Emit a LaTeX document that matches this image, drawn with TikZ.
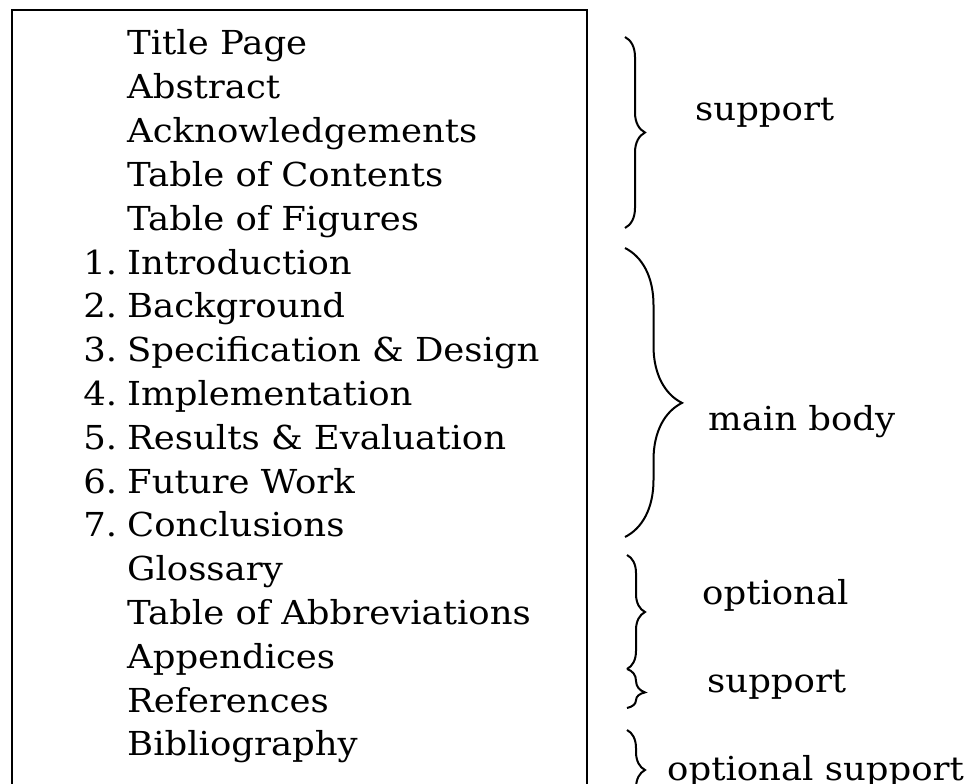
\documentclass[tikz,border=0pt]{standalone}
\usepackage{fontspec}
\setmainfont[FakeStretch=1.075]{DejaVu Serif}
\usetikzlibrary{decorations.pathreplacing}
\tikzset{
  entry/.style={anchor=base west, inner sep=0pt, font=\fontsize{33}{40}\selectfont},
  lbl/.style={anchor=base west, inner sep=0pt, font=\fontsize{33}{40}\selectfont},
  brc/.style={decorate, line width=2pt, decoration={brace, amplitude=#1}},
}
\newcommand{\numpre}[1]{\llap{#1\hspace{10pt}}}
\begin{document}
\begin{tikzpicture}[x=1pt,y=1pt]
\useasboundingbox (0,0) rectangle (975,-784);
\draw[line width=1.8pt] (12,-800) -- (12,-10) -- (587,-10) -- (587,-800);
\node[entry] (e1)  at (127,-55) {Title Page};
\node[entry] (e2)  at (127,-98.8) {Abstract};
\node[entry] (e3)  at (127,-142.6) {Acknowledgements};
\node[entry] (e4)  at (127,-186.4) {Table of Contents};
\node[entry] (e5)  at (127,-230.2) {Table of Figures};
\node[entry] (e6)  at (127,-274) {\numpre{1.}Introduction};
\node[entry] (e7)  at (127,-317.8) {\numpre{2.}Background};
\node[entry] (e8)  at (127,-361.6) {\numpre{3.}Specification \& Design};
\node[entry] (e9)  at (127,-405.4) {\numpre{4.}Implementation};
\node[entry] (e10) at (127,-449.2) {\numpre{5.}Results \& Evaluation};
\node[entry] (e11) at (127,-493) {\numpre{6.}Future Work};
\node[entry] (e12) at (127,-536.8) {\numpre{7.}Conclusions};
\node[entry] (e13) at (127,-580.6) {Glossary};
\node[entry] (e14) at (127,-624.4) {Table of Abbreviations};
\node[entry] (e15) at (127,-668.2) {Appendices};
\node[entry] (e16) at (127,-712) {References};
\node[entry] (e17) at (127,-755.8) {Bibliography};
\coordinate (b1t) at (625,-37);  \coordinate (b1b) at (625,-228);
\coordinate (b2t) at (625,-248); \coordinate (b2b) at (625,-537);
\coordinate (b3t) at (627,-555); \coordinate (b3b) at (627,-669);
\coordinate (b4t) at (627,-669); \coordinate (b4b) at (627,-708);
\coordinate (b5t) at (627,-730); \coordinate (b5b) at (627,-810);
\draw[brc=20pt] (b1t) -- (b1b);
\draw[brc=57pt, decoration={aspect=0.536}] (b2t) -- (b2b);
\draw[brc=18pt] (b3t) -- (b3b);
\draw[brc=18pt, decoration={aspect=0.6}] (b4t) -- (b4b);
\draw[brc=18pt] (b5t) -- (b5b);
\node[lbl] (l1) at (695,-120) {support};
\node[lbl] (l2) at (708,-430) {main body};
\node[lbl] (l3) at (702,-604) {optional};
\node[lbl] (l4) at (707,-692) {support};
\node[lbl] (l5) at (667,-780) {optional support};
\end{tikzpicture}
\end{document}
